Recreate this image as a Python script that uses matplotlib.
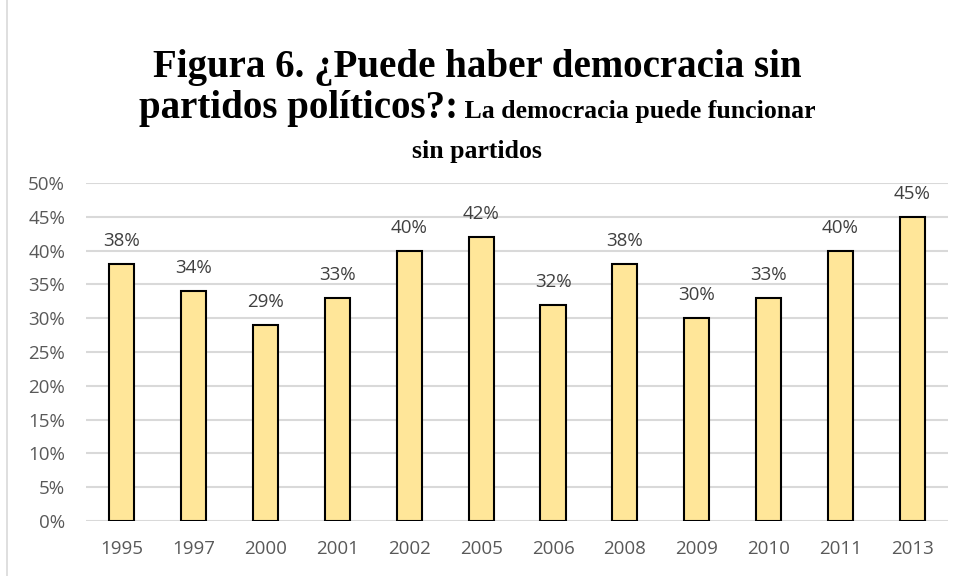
import matplotlib
matplotlib.use("Agg")
import matplotlib.pyplot as plt
from matplotlib.lines import Line2D
from matplotlib.ticker import FuncFormatter

years = ['1995', '1997', '2000', '2001', '2002', '2005', '2006', '2008', '2009', '2010', '2011', '2013']
values = [38, 34, 29, 33, 40, 42, 32, 38, 30, 33, 40, 45]

title_line1 = 'Figura 6. ¿Puede haber democracia sin'
title_line2a = 'partidos políticos?:'
title_line2b = ' La democracia puede funcionar'
title_line3 = 'sin partidos'

sans = ['Open Sans', 'DejaVu Sans']
serif = ['Liberation Serif', 'DejaVu Serif']

fig = plt.figure(figsize=(9.54, 5.76), dpi=100)
ax = fig.add_axes([0.090, 0.0955, 0.904, 0.587])

x = range(len(years))
ax.bar(x, values, width=0.35, color='#FFE699', edgecolor='black', linewidth=1.5, zorder=3)

for i, v in zip(x, values):
    ax.annotate(f'{v}%', (i, v), xytext=(0, 10), textcoords='offset points',
                ha='center', va='bottom', fontsize=13.5, color='#404040', family=sans)

ax.set_ylim(0, 50)
ax.set_xlim(-0.5, len(years) - 0.5)
ax.set_yticks(range(0, 51, 5))
ax.yaxis.set_major_formatter(FuncFormatter(lambda v, p: f'{int(v)}%'))
ax.set_xticks(list(x))
ax.set_xticklabels(years)
ax.grid(axis='y', color='#D9D9D9', linewidth=1.5, zorder=0)
for s in ax.spines.values():
    s.set_visible(False)
ax.tick_params(length=0, labelsize=13.5, colors='#595959', pad=14)
ax.tick_params(axis='y', pad=15)
for lab in ax.get_xticklabels() + ax.get_yticklabels():
    lab.set_family(sans)

# left border of the chart area
fig.add_artist(Line2D([7 / 954, 7 / 954], [0, 1], color='#D9D9D9', linewidth=1.2))

# title in three lines, second line mixes two sizes
big = 28
small = 18.5
fig.text(0.5, 1 - 77 / 576, title_line1, ha='center', va='baseline',
         fontsize=big, fontweight='bold', family=serif)
t2a = fig.text(0, 1 - 118 / 576, title_line2a, ha='left', va='baseline',
               fontsize=big, fontweight='bold', family=serif)
t2b = fig.text(0, 1 - 118 / 576, title_line2b, ha='left', va='baseline',
               fontsize=small, fontweight='bold', family=serif)
fig.text(0.5, 1 - 158 / 576, title_line3, ha='center', va='baseline',
         fontsize=small, fontweight='bold', family=serif)

renderer = fig.canvas.get_renderer()
w1 = t2a.get_window_extent(renderer).width / fig.bbox.width
w2 = t2b.get_window_extent(renderer).width / fig.bbox.width
start = 0.5 - (w1 + w2) / 2
t2a.set_x(start)
t2b.set_x(start + w1)

fig.savefig('out.png', dpi=100)
